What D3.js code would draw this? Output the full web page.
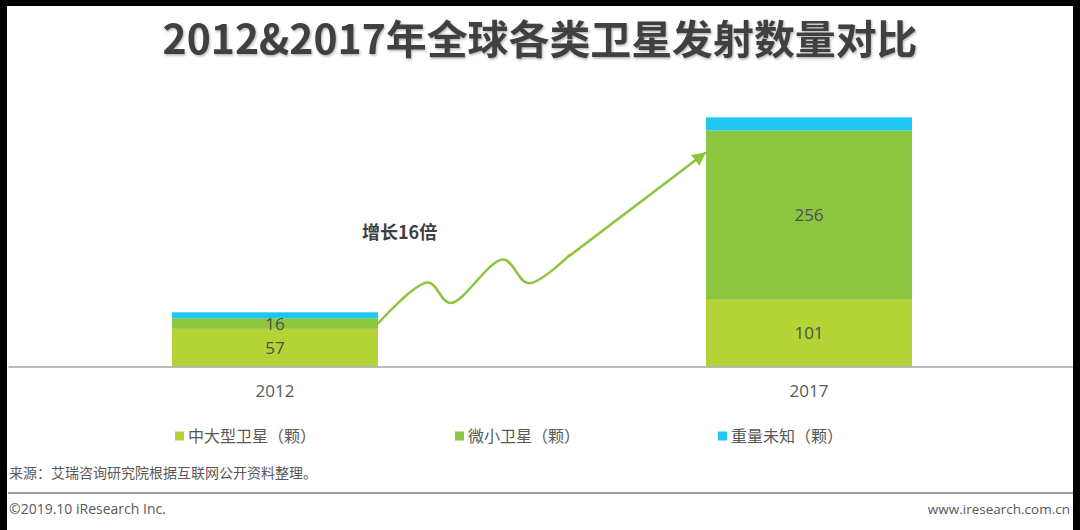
<!DOCTYPE html>
<html>
<head>
<meta charset="utf-8">
<script src="https://cdn.jsdelivr.net/npm/d3@7"></script>
<style>
  html, body { margin: 0; padding: 0; background: #fff; }
  svg { display: block; }
</style>
</head>
<body>
<svg id="chart" width="1080" height="530"></svg>
<script>
// ---- data ----
const years = ["2012", "2017"];
const seriesNames = ["中大型卫星（颗）", "微小卫星（颗）", "重量未知（颗）"];
const largeSat = [57, 101];
const smallSat = [16, 256];
const unknownSat = [9, 20];
const showLabel = [true, true, false];
const titleText = "2012&2017年全球各类卫星发射数量对比";
const growthText = "增长16倍";
const sourceText = "来源：艾瑞咨询研究院根据互联网公开资料整理。";
const copyrightText = "©2019.10 iResearch Inc.";
const siteText = "www.iresearch.com.cn";
// arrow path: fraction of the gap between bars, value on the y scale
const arrowWaveFrac = [0, 0.153, 0.22, 0.382, 0.458, 0.585];
const arrowWaveVal = [65, 127, 96, 162, 126, 169];
const arrowTipFrac = [0.583, 0.997];
const arrowTipVal = [167, 323];

// ---- styles ----
const colors = ["#b4d334", "#8cc540", "#1ec8f0"];
const textColor = "#595959";
const latinFont = '"Open Sans","Noto Sans CJK SC",sans-serif';
const cjkFont = '"Noto Sans CJK SC","Open Sans",sans-serif';

const svg = d3.select("#chart");

const x = d3.scaleBand().domain(years).range([8, 1076])
  .paddingInner(1 - 206 / 534).paddingOuter((1 - 206 / 534) / 2);
const y = d3.scaleLinear().domain([0, 400]).range([366.5, 366.5 - 400 * 0.661]);

const rows = years.map((yr, i) => ({ year: yr, s0: largeSat[i], s1: smallSat[i], s2: unknownSat[i] }));
const stack = d3.stack().keys(["s0", "s1", "s2"])(rows);

// title
const defs = svg.append("defs");
const f = defs.append("filter").attr("id", "shadow").attr("x", "-5%").attr("y", "-20%").attr("width", "110%").attr("height", "140%");
f.append("feDropShadow").attr("dx", 1).attr("dy", 1.5).attr("stdDeviation", 0.8).attr("flood-color", "#000").attr("flood-opacity", 0.3);

svg.append("text")
  .attr("x", 540).attr("y", 54)
  .attr("text-anchor", "middle")
  .attr("font-family", cjkFont)
  .attr("font-weight", 700)
  .attr("font-size", 40)
  .attr("fill", "#404040")
  .attr("textLength", 755)
  .attr("lengthAdjust", "spacingAndGlyphs")
  .attr("filter", "url(#shadow)")
  .text(titleText);

// bars
const layers = svg.append("g").selectAll("g").data(stack).join("g")
  .attr("fill", (d, i) => colors[i]);
layers.selectAll("rect").data(d => d).join("rect")
  .attr("x", d => x(d.data.year))
  .attr("width", x.bandwidth())
  .attr("y", d => y(d[1]))
  .attr("height", d => y(d[0]) - y(d[1]));

// value labels
stack.forEach((layer, li) => {
  if (!showLabel[li]) return;
  svg.append("g").selectAll("text").data(layer).join("text")
    .attr("x", d => x(d.data.year) + x.bandwidth() / 2)
    .attr("y", d => (y(d[0]) + y(d[1])) / 2)
    .attr("dy", "0.36em")
    .attr("text-anchor", "middle")
    .attr("font-family", latinFont)
    .attr("font-size", 17)
    .attr("fill", "#505050")
    .text(d => d[1] - d[0]);
});

// axis
const axis = svg.append("g").attr("transform", `translate(0,${y(0)})`)
  .call(d3.axisBottom(x).tickSize(0).tickPadding(18));
axis.select(".domain").attr("stroke", "#a6a6a6").attr("stroke-width", 1.5);
axis.selectAll("text").attr("font-family", latinFont).attr("font-size", 17).attr("fill", textColor);

// growth arrow
const gapStart = x("2012") + x.bandwidth();
const gapEnd = x("2017");
const gx = d3.scaleLinear().domain([0, 1]).range([gapStart, gapEnd]);
const arrowColor = "#8cc540";
defs.append("marker").attr("id", "arrowhead")
  .attr("viewBox", "0 0 10 10").attr("refX", 9).attr("refY", 5)
  .attr("markerWidth", 5.5).attr("markerHeight", 5.5)
  .attr("markerUnits", "strokeWidth")
  .attr("orient", "auto")
  .append("path").attr("d", "M0,0 L10,5 L0,10 Z").attr("fill", arrowColor);

const wave = d3.line().x(d => gx(d[0])).y(d => y(d[1])).curve(d3.curveCatmullRom.alpha(0.5));
const straight = d3.line().x(d => gx(d[0])).y(d => y(d[1]));
svg.append("path")
  .attr("d", wave(arrowWaveFrac.map((f, i) => [f, arrowWaveVal[i]])))
  .attr("fill", "none").attr("stroke", arrowColor).attr("stroke-width", 2.5)
  .attr("stroke-linecap", "round");
svg.append("path")
  .attr("d", straight(arrowTipFrac.map((f, i) => [f, arrowTipVal[i]])))
  .attr("fill", "none").attr("stroke", arrowColor).attr("stroke-width", 2.5)
  .attr("stroke-linecap", "round")
  .attr("marker-end", "url(#arrowhead)");

svg.append("text")
  .attr("x", 362).attr("y", 233).attr("dy", "0.36em")
  .attr("font-family", cjkFont).attr("font-weight", 700).attr("font-size", 18)
  .attr("fill", "#404040")
  .text(growthText);

// legend
const legendX = [175, 455, 718];
const legend = svg.append("g").selectAll("g").data(seriesNames).join("g")
  .attr("transform", (d, i) => `translate(${legendX[i]},436)`);
legend.append("rect").attr("x", 0).attr("y", -4.5).attr("width", 9).attr("height", 9)
  .attr("fill", (d, i) => colors[i]);
legend.append("text").attr("x", 13).attr("dy", "0.36em")
  .attr("font-family", cjkFont).attr("font-size", 16).attr("fill", textColor)
  .text(d => d);

// footer
svg.append("text").attr("x", 9).attr("y", 478)
  .attr("font-family", cjkFont).attr("font-size", 14).attr("fill", textColor)
  .text(sourceText);
svg.append("line").attr("x1", 8).attr("x2", 1073).attr("y1", 493).attr("y2", 493)
  .attr("stroke", "#808080").attr("stroke-width", 1.5);
svg.append("text").attr("x", 9).attr("y", 514)
  .attr("font-family", latinFont).attr("font-size", 14).attr("fill", textColor)
  .text(copyrightText);
svg.append("text").attr("x", 1070).attr("y", 514).attr("text-anchor", "end")
  .attr("font-family", latinFont).attr("font-size", 13.5).attr("fill", textColor)
  .text(siteText);

// black frame edges
svg.append("rect").attr("x", 0).attr("y", 0).attr("width", 1080).attr("height", 6).attr("fill", "#000");
svg.append("rect").attr("x", 0).attr("y", 0).attr("width", 7).attr("height", 530).attr("fill", "#000");
svg.append("rect").attr("x", 1073).attr("y", 0).attr("width", 7).attr("height", 530).attr("fill", "#000");
</script>
</body>
</html>
